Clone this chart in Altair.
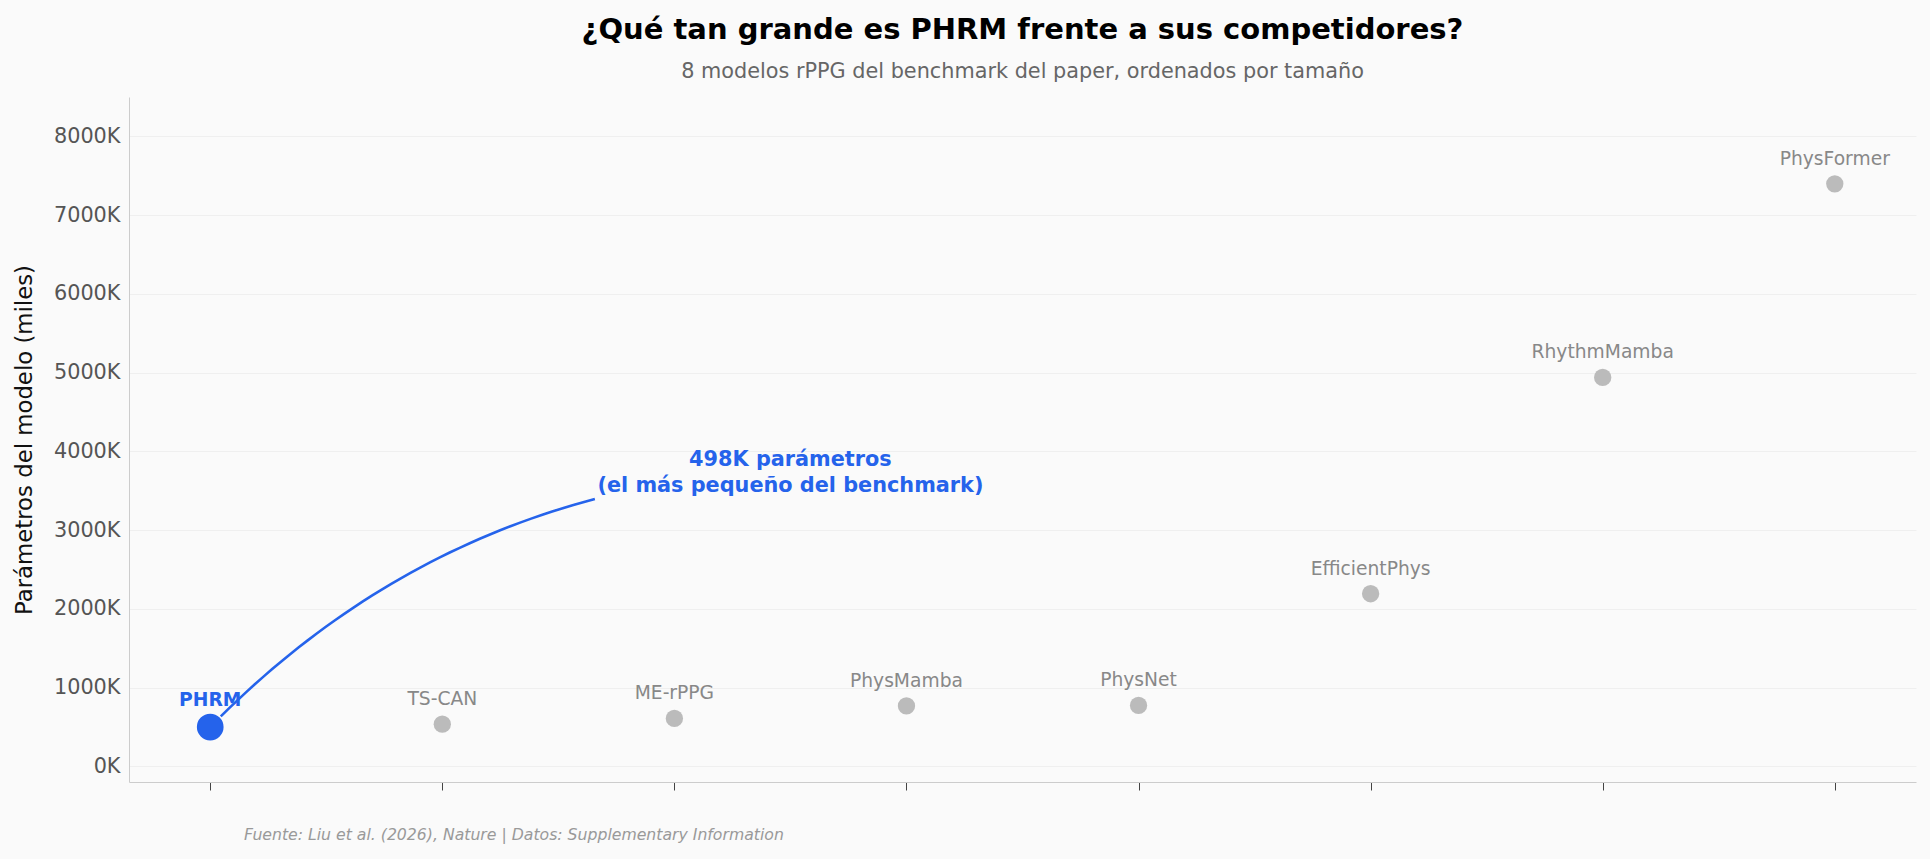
import altair as alt
import pandas as pd
import numpy as np

# ---- data ----
models = ["PHRM", "TS-CAN", "ME-rPPG", "PhysMamba", "PhysNet",
          "EfficientPhys", "RhythmMamba", "PhysFormer"]
params_k = [498, 535, 608, 766, 773, 2191, 4938, 7397]
positions = [0, 1, 2, 3, 4, 5, 6, 7]
y_ticks = [0, 1000, 2000, 3000, 4000, 5000, 6000, 7000, 8000]

annot_lines = "498K parámetros\n(el más pequeño del benchmark)"
annot_pos = [2.5, 3750]          # text anchor (x index, thousands)
source_note = "Fuente: Liu et al. (2026), Nature | Datos: Supplementary Information"

BLUE = "#2563eb"
GREY = "#bbbbbb"
FONT = "DejaVu Sans"

W, H = 1787, 685
X_DOM = [-0.35, 7.35]
Y_DOM = [-200, 8500]

df = pd.DataFrame({"model": models, "pos": positions, "params": params_k})
df["grp"] = np.where(df["model"] == "PHRM", "hl", "other")

# ---- curved arrow (arc3-like quadratic curve from the annotation to PHRM) ----
sx = W / (X_DOM[1] - X_DOM[0])
sy = H / (Y_DOM[1] - Y_DOM[0])
p0 = np.array([annot_pos[0] * sx, annot_pos[1] * sy])
p2 = np.array([positions[0] * sx, params_k[0] * sy])
mid = (p0 + p2) / 2
d = p2 - p0
rad = 0.2
ctrl = np.array([mid[0] + rad * d[1], mid[1] - rad * d[0]])
ts = np.linspace(0.30, 0.978, 40)
curve = np.array([(1 - t) ** 2 * p0 + 2 * t * (1 - t) * ctrl + t ** 2 * p2 for t in ts])
arrow_df = pd.DataFrame({"pos": curve[:, 0] / sx, "params": curve[:, 1] / sy,
                         "t": np.arange(len(ts))})

x_enc = alt.X("pos:Q", scale=alt.Scale(domain=X_DOM, nice=False, zero=False),
              axis=alt.Axis(values=positions, labels=False, title=None, grid=False,
                            ticks=True, tickSize=8, tickColor="#444444", tickWidth=1,
                            domainColor="#cccccc", domainWidth=1))
y_enc = alt.Y("params:Q", scale=alt.Scale(domain=Y_DOM, nice=False, zero=False),
              axis=alt.Axis(values=y_ticks, labelExpr="datum.value + 'K'",
                            ticks=False, labelPadding=9, labelFontSize=20.8,
                            labelColor="#555555", labelFont=FONT,
                            grid=True, gridColor="#ececec", gridWidth=0.8,
                            domainColor="#cccccc", domainWidth=1,
                            title="Parámetros del modelo (miles)",
                            titleFont=FONT, titleFontSize=22.8, titleFontWeight="normal",
                            titleColor="#111111", titleAngle=270,
                            titleX=-105, titleY=H / 2, titleAlign="center",
                            titleBaseline="middle"))

points = alt.Chart(df).mark_circle(opacity=1).encode(
    x=x_enc, y=y_enc,
    color=alt.Color("grp:N", scale=alt.Scale(domain=["hl", "other"], range=[BLUE, GREY]),
                    legend=None),
    size=alt.Size("grp:N", scale=alt.Scale(domain=["hl", "other"], range=[713, 300]),
                  legend=None),
)

labels_other = alt.Chart(df).transform_filter("datum.grp == 'other'").mark_text(
    font=FONT, fontSize=18.7, color="#888888", baseline="alphabetic", align="center", dy=-19
).encode(x="pos:Q", y="params:Q", text="model:N")

labels_hl = alt.Chart(df).transform_filter("datum.grp == 'hl'").mark_text(
    font=FONT, fontSize=18.7, fontWeight="bold", color=BLUE,
    baseline="alphabetic", align="center", dy=-21
).encode(x="pos:Q", y="params:Q", text="model:N")

arrow = alt.Chart(arrow_df).mark_line(color=BLUE, strokeWidth=2.6).encode(
    x="pos:Q", y="params:Q", order="t:Q")

annot = alt.Chart(pd.DataFrame({"pos": [annot_pos[0]], "params": [annot_pos[1]],
                                "txt": [annot_lines]})).mark_text(
    font=FONT, fontSize=20.8, fontWeight="bold", color=BLUE, align="center",
    baseline="middle", lineBreak="\n", lineHeight=26, dy=-11
).encode(x="pos:Q", y="params:Q", text="txt:N")

source = alt.Chart(pd.DataFrame({"txt": [source_note]})).mark_text(
    font=FONT, fontSize=15.7, fontStyle="italic", color="#999999",
    align="left", baseline="middle"
).encode(x=alt.value(115), y=alt.value(737.5), text="txt:N")

chart = alt.layer(points, arrow, labels_other, labels_hl, annot, source).properties(
    width=W, height=H,
    autosize=alt.AutoSizeParams(type="none"),
    padding={"left": 129, "top": 97, "right": 14, "bottom": 77},
    background="#fafafa",
    title=alt.Title(
        "¿Qué tan grande es PHRM frente a sus competidores?",
        subtitle="8 modelos rPPG del benchmark del paper, ordenados por tamaño",
        font=FONT, fontSize=29, fontWeight="bold", color="#000000",
        subtitleFont=FONT, subtitleFontSize=20.8, subtitleColor="#666666",
        anchor="middle", offset=15, subtitlePadding=17,
    ),
).configure_view(stroke=None)

chart.save("out.html", embed_options={"renderer": "svg", "actions": False})
